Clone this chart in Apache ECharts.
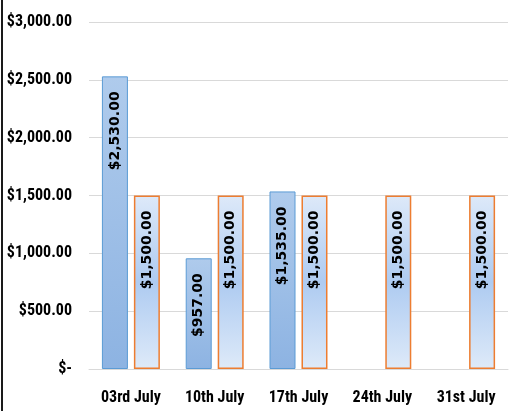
<!DOCTYPE html>
<html>
<head>
<meta charset="utf-8">
<script src="https://cdn.jsdelivr.net/npm/echarts@6/dist/echarts.min.js"></script>
<style>
html,body{margin:0;padding:0;background:#fff;}
#chart{width:509px;height:411px;}
</style>
</head>
<body>
<div id="chart"></div>
<script>
var categories = ['03rd July', '10th July', '17th July', '24th July', '31st July'];
var actualValues = [2530, 957, 1535, null, null];
var targetValues = [1500, 1500, 1500, 1500, 1500];
var yTicks = [0, 500, 1000, 1500, 2000, 2500, 3000];

function money(v){
    if (v === 0) return '$-';
    return '$' + v.toLocaleString('en-US', {minimumFractionDigits: 2, maximumFractionDigits: 2});
}

var axisFont = "'Liberation Sans Narrow', 'Arial Narrow', 'Roboto Condensed', sans-serif";
var labelFont = "'DejaVu Sans', Verdana, sans-serif";

var barLabel = {
    show: true,
    position: 'insideTop',
    distance: 15,
    rotate: 90,
    align: 'right',
    verticalAlign: 'middle',
    color: '#000',
    fontWeight: 'bold',
    fontSize: 14,
    fontFamily: labelFont,
    formatter: function(p){ return money(p.value); }
};

var chart = echarts.init(document.getElementById('chart'));
var option = {
    animation: false,
    graphic: [{
        type: 'rect',
        shape: {x: 1, y: 0, width: 2, height: 411},
        style: {fill: '#1a1a1a'}
    }],
    grid: {left: 89, right: 1, top: 22, bottom: 42},
    xAxis: {
        type: 'category',
        data: categories,
        axisLine: {show: true, lineStyle: {color: '#d9d9d9', width: 1}},
        axisTick: {show: false},
        axisLabel: {
            interval: 0,
            color: '#000',
            fontWeight: 'bold',
            fontSize: 16,
            fontFamily: axisFont,
            margin: 21
        }
    },
    yAxis: {
        type: 'value',
        min: yTicks[0],
        max: yTicks[yTicks.length - 1],
        interval: 500,
        axisLine: {show: false},
        axisTick: {show: false},
        splitLine: {lineStyle: {color: '#d9d9d9', width: 1}},
        axisLabel: {
            color: '#000',
            fontWeight: 'bold',
            fontSize: 16,
            fontFamily: axisFont,
            margin: 17,
            formatter: money
        }
    },
    series: [
        {
            name: 'Actual',
            type: 'bar',
            data: actualValues,
            barWidth: 26,
            barGap: '23%',
            itemStyle: {
                color: new echarts.graphic.LinearGradient(0, 0, 0, 1, [
                    {offset: 0, color: '#afcbec'},
                    {offset: 1, color: '#8db3e2'}
                ]),
                borderColor: '#5b9bd5',
                borderWidth: 1
            },
            label: barLabel
        },
        {
            name: 'Target',
            type: 'bar',
            data: targetValues,
            barWidth: 26,
            itemStyle: {
                color: new echarts.graphic.LinearGradient(0, 0, 0, 1, [
                    {offset: 0, color: '#dde9f9'},
                    {offset: 0.5, color: '#aecbf1'},
                    {offset: 1, color: '#deeaf9'}
                ]),
                borderColor: '#ed7d31',
                borderWidth: 1.5
            },
            label: barLabel
        }
    ]
};
chart.setOption(option);
</script>
</body>
</html>
